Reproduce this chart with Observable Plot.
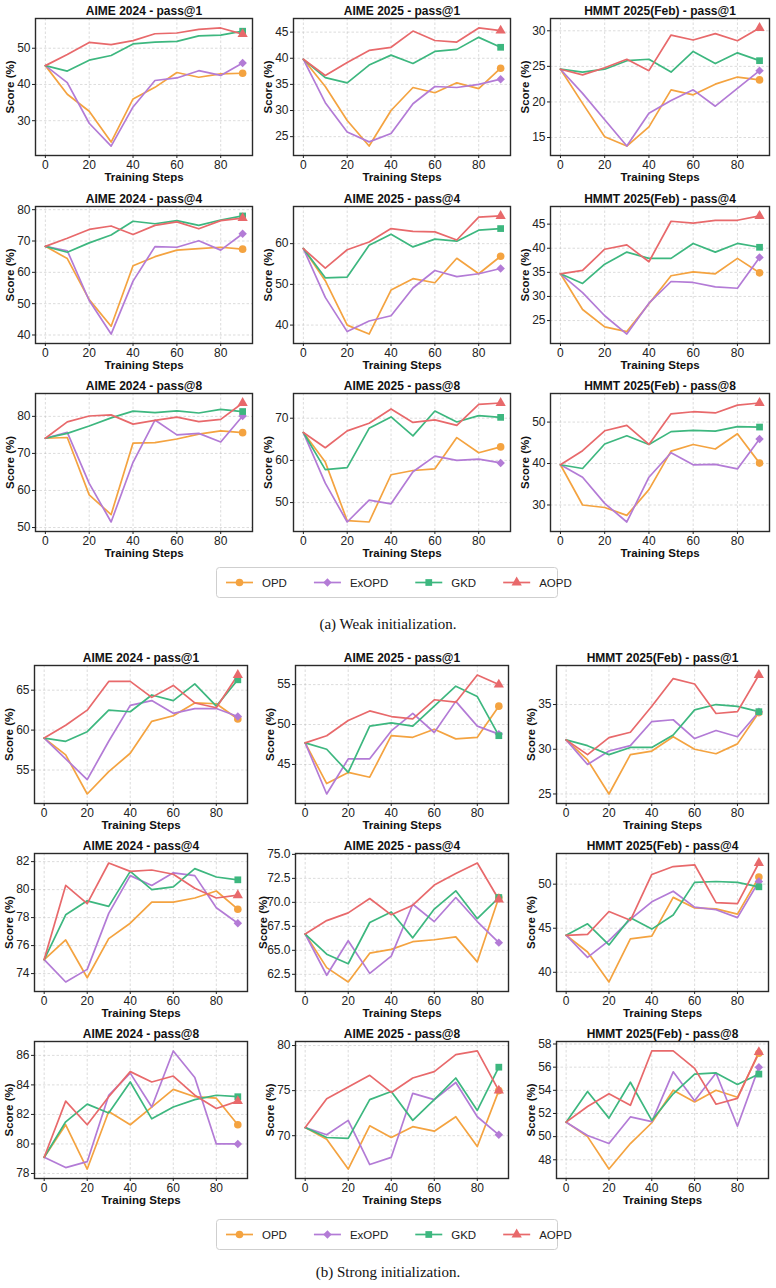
<!DOCTYPE html>
<html>
<head>
<meta charset="utf-8">
<script src="https://cdn.jsdelivr.net/npm/d3@7"></script>
<script src="https://cdn.jsdelivr.net/npm/@observablehq/plot@0.6"></script>
<style>
  body { margin: 0; background: #fff; }
  #page { position: relative; width: 776px; height: 1288px; background: #fff;
          font-family: "Liberation Sans", Arial, sans-serif; }
  .caption { position: absolute; left: 0; width: 776px; text-align: center;
             font-family: "Liberation Serif", "Times New Roman", serif; font-size: 15px; line-height: 20px; color: #111; }
</style>
</head>
<body>
<div id="page"></div>
<script>
// Shared axes and series definitions
const steps = [0, 10, 20, 30, 40, 50, 60, 70, 80, 90];
const methods = ["OPD", "ExOPD", "GKD", "AOPD"];
const methodColors = ["#F4A340", "#B37BD6", "#3DB77F", "#E8696B"];
const methodSymbols = ["circle", "diamond2", "square", "triangle"];
const xTicks = [0, 20, 40, 60, 80];

// ---- Weak initialization ----
const weakAime24P1 = {
  OPD:   [45.2, 37.3, 32.6, 24.1, 36.0, 39.2, 43.3, 42.0, 42.9, 43.1],
  ExOPD: [45.2, 40.5, 29.3, 23.0, 33.8, 41.1, 41.8, 43.8, 42.5, 45.9],
  GKD:   [45.2, 43.7, 46.7, 48.0, 51.2, 51.7, 51.9, 53.4, 53.6, 54.7],
  AOPD:  [45.2, 48.3, 51.6, 51.0, 52.1, 54.0, 54.2, 55.2, 55.6, 53.9]
};
const weakAime25P1 = {
  OPD:   [39.8, 34.6, 28.1, 23.2, 30.0, 34.4, 33.4, 35.3, 34.2, 38.1],
  ExOPD: [39.8, 31.5, 25.9, 24.0, 25.6, 31.3, 34.6, 34.4, 35.0, 36.0],
  GKD:   [39.8, 36.3, 35.3, 38.7, 40.6, 39.0, 41.3, 41.7, 44.0, 42.1],
  AOPD:  [39.8, 36.7, 39.2, 41.5, 42.1, 45.2, 43.4, 43.1, 45.8, 45.3]
};
const weakHmmtP1 = {
  OPD:   [24.6, 19.8, 15.1, 13.8, 16.5, 21.7, 21.0, 22.5, 23.5, 23.1],
  ExOPD: [24.6, 21.2, 17.5, 13.8, 18.4, 20.2, 21.7, 19.4, 21.9, 24.4],
  GKD:   [24.6, 24.2, 24.6, 25.8, 26.0, 24.2, 27.1, 25.4, 26.9, 25.8],
  AOPD:  [24.6, 23.8, 24.8, 26.0, 24.4, 29.4, 28.7, 29.6, 28.6, 30.4]
};
const weakAime24P4 = {
  OPD:   [68.3, 64.4, 51.3, 42.8, 62.1, 65.0, 67.1, 67.6, 68.0, 67.4],
  ExOPD: [68.3, 66.9, 51.0, 40.3, 57.2, 68.2, 68.0, 70.1, 67.1, 72.3],
  GKD:   [68.3, 66.4, 69.4, 71.9, 76.3, 75.5, 76.5, 75.0, 76.7, 78.0],
  AOPD:  [68.3, 70.9, 73.7, 74.8, 72.1, 75.0, 76.1, 73.9, 76.5, 77.3]
};
const weakAime25P4 = {
  OPD:   [58.8, 50.9, 40.0, 37.8, 48.6, 51.4, 50.4, 56.4, 52.6, 56.9],
  ExOPD: [58.8, 46.8, 38.4, 41.0, 42.3, 49.1, 53.4, 51.9, 52.6, 53.9],
  GKD:   [58.8, 51.6, 51.8, 59.6, 62.3, 59.2, 61.1, 60.6, 63.3, 63.7],
  AOPD:  [58.8, 54.0, 58.5, 60.4, 63.7, 63.0, 62.9, 60.9, 66.5, 66.8]
};
const weakHmmtP4 = {
  OPD:   [34.7, 27.3, 23.7, 22.7, 28.5, 34.3, 35.1, 34.7, 37.9, 34.9],
  ExOPD: [34.7, 30.8, 26.0, 22.2, 28.6, 33.1, 32.9, 32.0, 31.7, 38.1],
  GKD:   [34.7, 32.7, 36.7, 39.2, 37.9, 37.9, 41.0, 39.2, 41.0, 40.2],
  AOPD:  [34.7, 35.4, 39.8, 40.7, 37.2, 45.6, 45.2, 45.8, 45.8, 46.7]
};
const weakAime24P8 = {
  OPD:   [74.1, 74.3, 58.8, 53.5, 72.8, 72.9, 73.9, 75.2, 76.1, 75.6],
  ExOPD: [74.1, 75.7, 61.9, 51.5, 67.6, 79.0, 75.0, 75.4, 73.1, 80.1],
  GKD:   [74.1, 75.4, 77.4, 79.6, 81.4, 81.0, 81.5, 80.9, 81.9, 81.3],
  AOPD:  [74.1, 78.5, 80.1, 80.4, 77.9, 78.9, 79.8, 78.6, 79.2, 83.6]
};
const weakAime25P8 = {
  OPD:   [66.6, 59.6, 45.7, 45.4, 56.6, 57.6, 58.0, 65.4, 61.8, 63.2],
  ExOPD: [66.6, 54.6, 45.4, 50.6, 49.7, 57.3, 61.0, 60.0, 60.3, 59.4],
  GKD:   [66.6, 57.8, 58.3, 67.6, 70.3, 65.8, 71.7, 69.1, 70.6, 70.2],
  AOPD:  [66.6, 63.0, 67.0, 68.8, 72.2, 69.0, 69.6, 68.3, 73.3, 73.6]
};
const weakHmmtP8 = {
  OPD:   [39.7, 30.0, 29.4, 27.5, 33.7, 43.0, 44.6, 43.5, 47.2, 40.1],
  ExOPD: [39.7, 36.7, 30.4, 25.9, 36.7, 42.6, 39.7, 39.8, 38.7, 45.9],
  GKD:   [39.7, 38.8, 44.7, 46.7, 44.6, 47.7, 48.0, 47.8, 48.9, 48.8],
  AOPD:  [39.7, 43.1, 47.9, 49.2, 44.6, 52.0, 52.5, 52.2, 54.1, 54.6]
};

// ---- Strong initialization ----
const strongAime24P1 = {
  OPD:   [59.0, 56.9, 52.0, 54.8, 57.1, 61.1, 61.8, 63.4, 63.3, 61.4],
  ExOPD: [59.0, 56.4, 53.8, 58.6, 63.1, 63.7, 62.1, 62.7, 62.7, 61.7],
  GKD:   [59.0, 58.6, 59.8, 62.5, 62.3, 64.4, 63.7, 65.8, 63.0, 66.3],
  AOPD:  [59.0, 60.6, 62.5, 66.1, 66.1, 64.1, 65.6, 63.4, 62.8, 66.9]
};
const strongAime25P1 = {
  OPD:   [47.7, 42.6, 44.0, 43.4, 48.6, 48.4, 49.4, 48.2, 48.4, 52.3],
  ExOPD: [47.7, 41.3, 45.7, 45.7, 49.2, 51.4, 49.0, 52.9, 49.8, 48.8],
  GKD:   [47.7, 46.9, 44.0, 49.8, 50.2, 49.8, 52.3, 54.8, 53.5, 48.6],
  AOPD:  [47.7, 48.6, 50.5, 51.7, 51.0, 50.7, 53.1, 52.8, 56.2, 55.0]
};
const strongHmmtP1 = {
  OPD:   [31.05, 28.8, 25.0, 29.4, 29.8, 31.4, 30.0, 29.5, 30.6, 34.1],
  ExOPD: [31.05, 28.3, 29.8, 30.4, 33.1, 33.3, 31.2, 32.1, 31.4, 34.2],
  GKD:   [31.05, 30.4, 29.4, 30.2, 30.2, 31.6, 34.4, 35.0, 34.8, 34.2],
  AOPD:  [31.05, 29.4, 31.3, 31.9, 34.8, 37.9, 37.3, 34.0, 34.2, 38.3]
};
const strongAime24P4 = {
  OPD:   [75.0, 76.4, 73.7, 76.5, 77.6, 79.1, 79.1, 79.4, 79.9, 78.6],
  ExOPD: [75.0, 73.4, 74.3, 78.3, 81.0, 80.3, 81.2, 81.0, 78.7, 77.6],
  GKD:   [75.0, 78.2, 79.2, 78.8, 81.3, 80.0, 80.2, 81.5, 80.9, 80.7],
  AOPD:  [75.0, 80.3, 79.0, 81.9, 81.3, 81.4, 81.1, 80.1, 79.4, 79.6]
};
const strongAime25P4 = {
  OPD:   [66.7, 63.2, 61.7, 64.7, 65.1, 65.9, 66.1, 66.4, 63.8, 70.5],
  ExOPD: [66.7, 62.4, 66.0, 62.6, 64.4, 69.8, 68.0, 70.5, 68.0, 65.8],
  GKD:   [66.7, 64.6, 63.6, 67.9, 69.0, 66.3, 69.3, 71.2, 68.3, 70.5],
  AOPD:  [66.7, 68.1, 68.9, 70.4, 68.7, 69.7, 71.8, 73.0, 74.1, 70.3]
};
const strongHmmtP4 = {
  OPD:   [44.2, 42.3, 38.9, 43.8, 44.1, 48.5, 47.3, 47.2, 46.6, 50.8],
  ExOPD: [44.2, 41.7, 43.6, 46.0, 48.0, 49.2, 47.4, 47.1, 46.2, 50.3],
  GKD:   [44.2, 45.5, 43.1, 46.2, 44.9, 46.5, 50.2, 50.3, 50.2, 49.7],
  AOPD:  [44.2, 44.3, 46.9, 45.9, 51.1, 52.0, 52.2, 47.9, 47.8, 52.4]
};
const strongAime24P8 = {
  OPD:   [79.1, 81.3, 78.3, 82.2, 81.3, 82.5, 83.7, 83.2, 83.1, 81.3],
  ExOPD: [79.1, 78.4, 78.8, 83.3, 84.8, 82.5, 86.3, 84.5, 80.0, 80.0],
  GKD:   [79.1, 81.5, 82.7, 82.1, 84.2, 81.7, 82.5, 83.0, 83.3, 83.2],
  AOPD:  [79.1, 82.9, 81.3, 83.2, 84.9, 84.2, 84.6, 83.3, 82.4, 82.9]
};
const strongAime25P8 = {
  OPD:   [70.9, 69.6, 66.3, 71.1, 69.8, 71.0, 70.5, 72.1, 68.8, 75.0],
  ExOPD: [70.9, 70.1, 71.7, 66.8, 67.6, 74.7, 74.0, 75.9, 72.1, 70.1],
  GKD:   [70.9, 69.8, 69.7, 74.0, 74.9, 71.7, 74.0, 76.4, 72.8, 77.6],
  AOPD:  [70.9, 74.1, 75.4, 76.7, 74.8, 76.4, 77.1, 79.0, 79.4, 75.0]
};
const strongHmmtP8 = {
  OPD:   [51.25, 50.0, 47.2, 49.4, 51.2, 54.0, 53.0, 54.0, 53.4, 57.2],
  ExOPD: [51.25, 50.1, 49.4, 51.7, 51.3, 55.6, 53.1, 55.5, 50.9, 56.0],
  GKD:   [51.25, 53.9, 51.6, 54.7, 51.4, 53.7, 55.4, 55.5, 54.5, 55.4],
  AOPD:  [51.25, 52.6, 53.7, 52.7, 57.4, 57.4, 55.9, 52.8, 53.3, 57.3]
};

// Y tick labels per panel
const ticksW_A24_1 = [30, 40, 50];
const ticksW_A25_1 = [25, 30, 35, 40, 45];
const ticksW_H_1   = [15, 20, 25, 30];
const ticksW_A24_4 = [40, 50, 60, 70, 80];
const ticksW_A25_4 = [40, 50, 60];
const ticksW_H_4   = [25, 30, 35, 40, 45];
const ticksW_A24_8 = [50, 60, 70, 80];
const ticksW_A25_8 = [50, 60, 70];
const ticksW_H_8   = [30, 40, 50];
const ticksS_A24_1 = [55, 60, 65];
const ticksS_A25_1 = [45, 50, 55];
const ticksS_H_1   = [25, 30, 35];
const ticksS_A24_4 = [74, 76, 78, 80, 82];
const ticksS_A25_4 = [62.5, 65.0, 67.5, 70.0, 72.5, 75.0];
const ticksS_H_4   = [40, 45, 50];
const ticksS_A24_8 = [78, 80, 82, 84, 86];
const ticksS_A25_8 = [70, 75, 80];
const ticksS_H_8   = [48, 50, 52, 54, 56, 58];

const weakPanels = [
  ["AIME 2024 - pass@1", weakAime24P1, ticksW_A24_1],
  ["AIME 2025 - pass@1", weakAime25P1, ticksW_A25_1],
  ["HMMT 2025(Feb) - pass@1", weakHmmtP1, ticksW_H_1],
  ["AIME 2024 - pass@4", weakAime24P4, ticksW_A24_4],
  ["AIME 2025 - pass@4", weakAime25P4, ticksW_A25_4],
  ["HMMT 2025(Feb) - pass@4", weakHmmtP4, ticksW_H_4],
  ["AIME 2024 - pass@8", weakAime24P8, ticksW_A24_8],
  ["AIME 2025 - pass@8", weakAime25P8, ticksW_A25_8],
  ["HMMT 2025(Feb) - pass@8", weakHmmtP8, ticksW_H_8]
];
const strongPanels = [
  ["AIME 2024 - pass@1", strongAime24P1, ticksS_A24_1],
  ["AIME 2025 - pass@1", strongAime25P1, ticksS_A25_1],
  ["HMMT 2025(Feb) - pass@1", strongHmmtP1, ticksS_H_1],
  ["AIME 2024 - pass@4", strongAime24P4, ticksS_A24_4],
  ["AIME 2025 - pass@4", strongAime25P4, ticksS_A25_4, ".1f"],
  ["HMMT 2025(Feb) - pass@4", strongHmmtP4, ticksS_H_4],
  ["AIME 2024 - pass@8", strongAime24P8, ticksS_A24_8],
  ["AIME 2025 - pass@8", strongAime25P8, ticksS_A25_8],
  ["HMMT 2025(Feb) - pass@8", strongHmmtP8, ticksS_H_8]
];

const page = document.getElementById("page");
const FONT = "Liberation Sans, Arial, sans-serif";

// Frame boxes of the subplots: [left, right] per column, [top, bottom] per row
const weakCols = [[35, 252], [293, 510], [550, 769]];
const weakRows = [[18, 155], [206, 343], [393, 531]];
const strongCols = [[34, 247], [295, 508], [556, 768]];
const strongRows = [[665, 803], [853, 991], [1041, 1178]];

function drawPanel([title, series, yTicks, fmt], [fx0, fx1], [fy0, fy1]) {
  const mL = 42, mR = 5, mT = 22, mB = 34;
  const rows = [];
  methods.forEach(m => series[m].forEach((v, j) => rows.push({method: m, step: steps[j], score: v})));
  const lo = d3.min(rows, d => d.score), hi = d3.max(rows, d => d.score);
  const pad = (hi - lo) * 0.08;
  const last = rows.filter(d => d.step === 90);
  const format = fmt ? d3.format(fmt) : d3.format("d");
  // the y label sits further out when tick labels are wider
  const widest = d3.max(yTicks, t => format(t).length);
  const yLabelDx = -(18 + 3.5 * widest);
  const gridStyle = {stroke: "#b8b8b8", strokeOpacity: 0.7, strokeDasharray: "2.5,2", strokeWidth: 0.7};
  const label = {fontWeight: "bold", fontSize: 11.5, fill: "#111", lineAnchor: "middle", textAnchor: "middle"};
  const svg = Plot.plot({
    width: mL + (fx1 - fx0) + mR,
    height: mT + (fy1 - fy0) + mB,
    marginLeft: mL, marginRight: mR, marginTop: mT, marginBottom: mB,
    style: {background: "transparent", fontFamily: FONT, overflow: "visible", color: "#222"},
    x: {domain: [-4.5, 94.5]},
    y: {domain: [lo - pad, hi + pad]},
    color: {domain: methods, range: methodColors},
    symbol: {domain: methods, range: methodSymbols},
    marks: [
      Plot.gridX(xTicks, gridStyle),
      Plot.gridY(yTicks, gridStyle),
      Plot.line(rows, {x: "step", y: "score", z: "method", stroke: "method", strokeWidth: 1.7}),
      Plot.dot(last, {x: "step", y: "score", fill: "method", symbol: "method", r: 3.8}),
      Plot.frame({stroke: "#2a2a2a", strokeWidth: 1.4}),
      Plot.axisX(xTicks, {tickSize: 3, tickPadding: 2, fontSize: 12, label: null}),
      Plot.axisY(yTicks, {tickSize: 3, tickPadding: 2, fontSize: 12, label: null, tickFormat: format}),
      Plot.text(["Training Steps"], {...label, frameAnchor: "bottom", dy: 22}),
      Plot.text(["Score (%)"], {...label, frameAnchor: "left", dx: yLabelDx, rotate: -90}),
      Plot.text([title], {...label, fontSize: 12, frameAnchor: "top", dy: -7})
    ]
  });
  svg.style.position = "absolute";
  svg.style.left = (fx0 - mL) + "px";
  svg.style.top = (fy0 - mT) + "px";
  page.appendChild(svg);
}

weakPanels.forEach((p, i) => drawPanel(p, weakCols[i % 3], weakRows[Math.floor(i / 3)]));
strongPanels.forEach((p, i) => drawPanel(p, strongCols[i % 3], strongRows[Math.floor(i / 3)]));

// Legend box: line + final-point marker for each method
function drawLegend(top) {
  const box = {x: 216, w: 341, h: 30};
  const svg = d3.create("svg").attr("width", 776).attr("height", box.h + 4)
    .style("position", "absolute").style("left", "0px").style("top", top + "px");
  svg.append("rect").attr("x", box.x + 0.5).attr("y", 1.5).attr("width", box.w).attr("height", box.h)
    .attr("rx", 3).attr("fill", "#fff").attr("stroke", "#cfcfcf");
  const ctx = document.createElement("canvas").getContext("2d");
  ctx.font = "11.5px " + FONT;
  let cx = box.x + 10;
  const cy = 1.5 + box.h / 2;
  methods.forEach((m, i) => {
    const g = svg.append("g");
    g.append("line").attr("x1", cx).attr("x2", cx + 27).attr("y1", cy).attr("y2", cy)
      .attr("stroke", methodColors[i]).attr("stroke-width", 1.7);
    const symType = [d3.symbolCircle, d3.symbolDiamond2, d3.symbolSquare, d3.symbolTriangle][i];
    g.append("path").attr("d", d3.symbol(symType, 3.8 * 3.8 * Math.PI)())
      .attr("transform", `translate(${cx + 13.5},${cy})`).attr("fill", methodColors[i]);
    g.append("text").attr("x", cx + 36).attr("y", cy).attr("dy", "0.35em")
      .attr("font-family", FONT).attr("font-size", 11.5).attr("fill", "#222").text(m);
    cx += 36 + ctx.measureText(m).width + 27;
  });
  page.appendChild(svg.node());
}
drawLegend(566);
drawLegend(1218);

// Captions
[["(a) Weak initialization.", 614], ["(b) Strong initialization.", 1262]].forEach(([t, y]) => {
  const d = document.createElement("div");
  d.className = "caption";
  d.style.top = y + "px";
  d.textContent = t;
  page.appendChild(d);
});
</script>
</body>
</html>
